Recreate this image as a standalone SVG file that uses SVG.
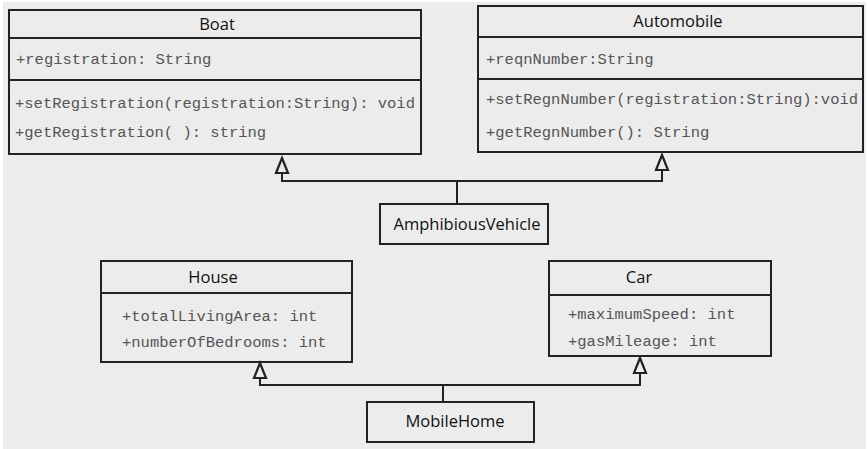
<svg xmlns="http://www.w3.org/2000/svg" width="867" height="449" viewBox="0 0 867 449">
<style>
.box{fill:none;stroke:#222;stroke-width:2}
.ln{fill:none;stroke:#222;stroke-width:2}
.title{font-family:"Open Sans","DejaVu Sans",sans-serif;font-size:16.5px;fill:#111;text-anchor:middle}
.mono{font-family:"Liberation Mono","Courier New",monospace;font-size:15.5px;fill:#555}
.tri{fill:#ececec;stroke:#222;stroke-width:2.2;stroke-linejoin:miter}
</style>
<rect x="0" y="0" width="867" height="449" fill="#ffffff"/>
<rect x="3" y="2" width="863" height="447" fill="#ececec"/>
<g id="connectors">
<path class="ln" d="M282,173 V181 H662 V170"/>
<path class="ln" d="M457,181 V204"/>
<polygon class="tri" points="282,158 276,173 288,173"/>
<polygon class="tri" points="662,155 656,170 668,170"/>
<path class="ln" d="M260,378 V385 H640 V373"/>
<path class="ln" d="M443,385 V402"/>
<polygon class="tri" points="260,363 254,378 266,378"/>
<polygon class="tri" points="640,358 634,373 646,373"/>
</g>
<g id="boat">
<rect class="box" x="9" y="10" width="412" height="144"/>
<path class="ln" d="M9,38 H421 M9,80 H421"/>
<text class="title" x="217" y="30">Boat</text>
<text class="mono" x="16" y="64">+registration: String</text>
<text class="mono" x="15" y="108">+setRegistration(registration:String): void</text>
<text class="mono" x="15" y="137">+getRegistration( ): string</text>
</g>
<g id="automobile">
<rect class="box" x="478" y="6" width="385" height="146"/>
<path class="ln" d="M478,37 H863 M478,79 H863"/>
<text class="title" x="678" y="27">Automobile</text>
<text class="mono" x="486" y="64">+reqnNumber:String</text>
<text class="mono" x="486" y="104">+setRegnNumber(registration:String):void</text>
<text class="mono" x="486" y="137">+getRegnNumber(): String</text>
</g>
<g id="amphibiousvehicle">
<rect class="box" x="380" y="204" width="168" height="40"/>
<text class="title" x="467" y="230">AmphibiousVehicle</text>
</g>
<g id="house">
<rect class="box" x="101" y="261" width="251" height="101"/>
<path class="ln" d="M101,293 H352"/>
<text class="title" x="213" y="283">House</text>
<text class="mono" x="122" y="321">+totalLivingArea: int</text>
<text class="mono" x="122" y="347">+numberOfBedrooms: int</text>
</g>
<g id="car">
<rect class="box" x="549" y="261" width="222" height="95"/>
<path class="ln" d="M549,295 H771"/>
<text class="title" x="639" y="283">Car</text>
<text class="mono" x="568" y="319">+maximumSpeed: int</text>
<text class="mono" x="568" y="346">+gasMileage: int</text>
</g>
<g id="mobilehome">
<rect class="box" x="367" y="402" width="167" height="40"/>
<text class="title" x="455" y="427">MobileHome</text>
</g>
</svg>
